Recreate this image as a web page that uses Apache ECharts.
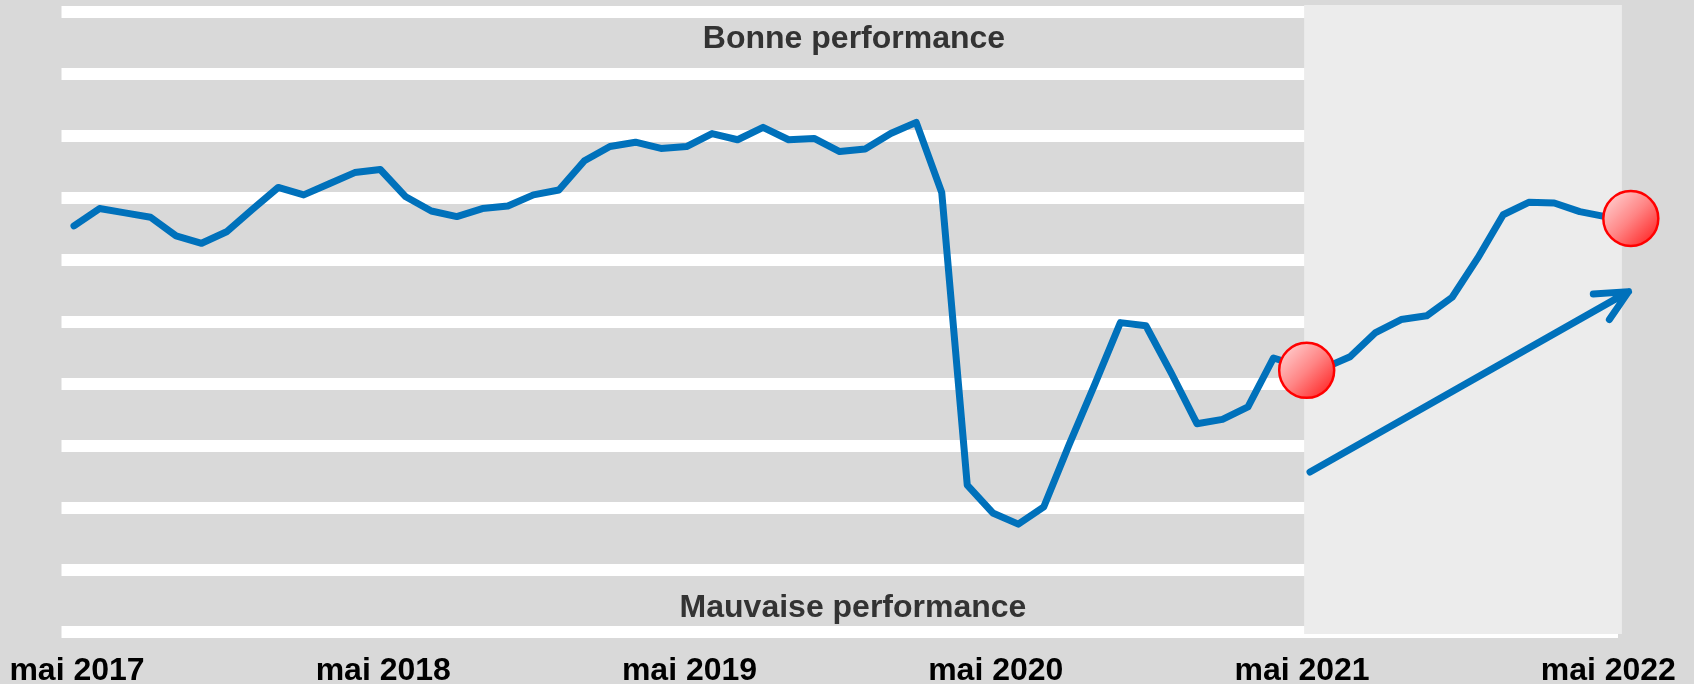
<!DOCTYPE html>
<html>
<head>
<meta charset="utf-8">
<script src="https://cdn.jsdelivr.net/npm/echarts@6/dist/echarts.min.js"></script>
<style>
html,body{margin:0;padding:0;background:#d9d9d9;}
#chart{width:1694px;height:684px;}
</style>
</head>
<body>
<div id="chart"></div>
<script>
// Month index 0 = mai 2017 ... 61 = juin 2022
var tickIndex = [0, 12, 24, 36, 48, 60];
var tickLabels = ['mai 2017', 'mai 2018', 'mai 2019', 'mai 2020', 'mai 2021', 'mai 2022'];
var values = [
  65.5, 68.3, 67.6, 66.9, 63.9, 62.7, 64.6, 68.2, 71.7, 70.5, 72.3, 74.1,
  74.6, 70.2, 67.9, 67.0, 68.3, 68.7, 70.5, 71.3, 76.0, 78.3, 79.0, 78.0,
  78.3, 80.4, 79.4, 81.4, 79.4, 79.6, 77.5, 77.9, 80.4, 82.2, 70.9, 23.7,
  19.2, 17.4, 20.2, 30.3, 40.0, 49.9, 49.4, 41.7, 33.6, 34.3, 36.3, 44.2,
  42.9, 42.6, 44.4, 48.3, 50.4, 51.0, 54.0, 60.3, 67.3, 69.3, 69.2, 67.8,
  67.0, 66.7
];
var highlightPoints = [[48.3, 42.2], [61, 66.7]];
var arrowPath = [[48.43, 25.8], [60.91, 54.9], [59.53, 54.5], [60.91, 54.9], [60.16, 50.4]];
var recentPeriod = [48.2, 60.65];
var topLabel = 'Bonne performance';
var bottomLabel = 'Mauvaise performance';

var lineData = values.map(function (v, i) { return [i, v]; });

var chart = echarts.init(document.getElementById('chart'), null, {renderer: 'canvas'});
var blue = '#0071bb';
var font = '"Liberation Sans", Arial, sans-serif';

chart.setOption({
  backgroundColor: '#d9d9d9',
  animation: false,
  grid: [
    {left: 61.5, right: 76, top: 12, bottom: 52, containLabel: false, outerBoundsMode: 'none'},
    {left: 61.5, right: 54, top: 5, bottom: 50, containLabel: false, outerBoundsMode: 'none'}
  ],
  xAxis: [
    {
      gridIndex: 0, type: 'value', min: -0.49, max: 60.5, show: false
    },
    {
      gridIndex: 1, type: 'value', min: -0.49, max: 61.36,
      axisLine: {show: false}, axisTick: {show: false}, splitLine: {show: false},
      axisLabel: {
        customValues: tickIndex,
        formatter: function (v) { var k = tickIndex.indexOf(Math.round(v)); return k >= 0 ? tickLabels[k] : ''; },
        color: '#000', fontWeight: 'bold', fontSize: 32, fontFamily: font, margin: 21,
        padding: [0, 0, 0, 6],
        showMinLabel: true, showMaxLabel: true, hideOverlap: false
      }
    }
  ],
  yAxis: [
    {
      gridIndex: 0, type: 'value', min: 0, max: 100, interval: 10,
      axisLine: {show: false}, axisTick: {show: false}, axisLabel: {show: false},
      splitLine: {show: true, showMinLine: true, showMaxLine: true, lineStyle: {color: '#ffffff', width: 12}}
    },
    {
      gridIndex: 1, type: 'value', min: -0.32, max: 101.13, show: false, splitLine: {show: false}
    }
  ],
  graphic: [
    {type: 'text', z: 10, style: {text: topLabel, x: 854, y: 39, textAlign: 'center', textVerticalAlign: 'middle', fill: '#333333', font: 'bold 32px ' + font}},
    {type: 'text', z: 10, style: {text: bottomLabel, x: 853, y: 608, textAlign: 'center', textVerticalAlign: 'middle', fill: '#333333', font: 'bold 32px ' + font}}
  ],
  series: [
    {
      type: 'line', xAxisIndex: 1, yAxisIndex: 1, z: -1, data: [], silent: true,
      markArea: {
        silent: true,
        itemStyle: {color: '#ececec'},
        data: [[{xAxis: recentPeriod[0], yAxis: 101.13}, {xAxis: recentPeriod[1], yAxis: -0.32}]]
      }
    },
    {
      type: 'line', xAxisIndex: 1, yAxisIndex: 1, data: lineData, z: 3, showSymbol: false, symbol: 'none',
      lineStyle: {color: blue, width: 7, cap: 'round', join: 'round'}
    },
    {
      type: 'line', xAxisIndex: 1, yAxisIndex: 1, data: arrowPath, z: 3, showSymbol: false, symbol: 'none',
      lineStyle: {color: blue, width: 7, cap: 'round', join: 'round'}
    },
    {
      type: 'scatter', xAxisIndex: 1, yAxisIndex: 1, data: highlightPoints, z: 5, symbol: 'circle', symbolSize: 55,
      itemStyle: {
        color: new echarts.graphic.LinearGradient(0, 0, 1, 1, [
          {offset: 0, color: '#ffe0e0'},
          {offset: 0.5, color: '#ff8585'},
          {offset: 1, color: '#ff1010'}
        ]),
        borderColor: '#ff0000', borderWidth: 2.5, opacity: 1
      }
    }
  ]
});
</script>
</body>
</html>
